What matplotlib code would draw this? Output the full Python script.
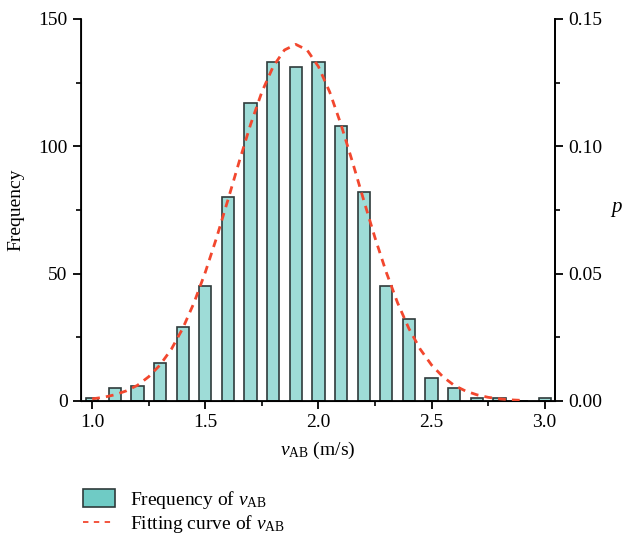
import numpy as np
import matplotlib
matplotlib.use("Agg")
import matplotlib.pyplot as plt
from matplotlib.patches import Patch
from matplotlib.lines import Line2D
from matplotlib.ticker import MultipleLocator

plt.rcParams['font.family'] = ['Liberation Serif', 'DejaVu Serif']
plt.rcParams['mathtext.fontset'] = 'custom'
plt.rcParams['mathtext.rm'] = 'Liberation Serif'
plt.rcParams['mathtext.it'] = 'Liberation Serif:italic'

# histogram of v_AB
speed = [1.0, 1.1, 1.2, 1.3, 1.4, 1.5, 1.6, 1.7, 1.8, 1.9, 2.0,
         2.1, 2.2, 2.3, 2.4, 2.5, 2.6, 2.7, 2.8, 2.9, 3.0]
freq = [1, 5, 6, 15, 29, 45, 80, 117, 133, 131, 133,
        108, 82, 45, 32, 9, 5, 1, 1, 0, 1]

# fitted curve (right axis)
fit_x = [1.00, 1.05, 1.10, 1.15, 1.20, 1.25, 1.30, 1.35, 1.40, 1.45, 1.50,
         1.55, 1.60, 1.65, 1.70, 1.75, 1.80, 1.85, 1.90, 1.95, 2.00,
         2.05, 2.10, 2.15, 2.20, 2.25, 2.30, 2.35, 2.40, 2.45, 2.50,
         2.55, 2.60, 2.65, 2.70, 2.75, 2.80, 2.85, 2.90]
fit_p = [0.0008, 0.0014, 0.0024, 0.0039, 0.0061, 0.0095, 0.0141, 0.0203, 0.0284, 0.0385, 0.0505,
         0.0641, 0.0789, 0.0940, 0.1085, 0.1213, 0.1313, 0.1378, 0.1400, 0.1378, 0.1313,
         0.1213, 0.1085, 0.0940, 0.0789, 0.0641, 0.0505, 0.0385, 0.0284, 0.0203, 0.0141,
         0.0095, 0.0061, 0.0039, 0.0024, 0.0014, 0.0008, 0.0004, 0.0002]

bar_face = (0.44, 0.80, 0.77, 0.68)
legend_face = '#6FCBC5'
edge = '#2F3B3B'
red = '#F2472E'

fig = plt.figure(figsize=(6.22, 5.41), dpi=100)
ax = fig.add_axes([0.130, 0.259, 0.762, 0.706])

ax.bar(speed, freq, width=0.054, facecolor=bar_face, edgecolor=edge, linewidth=1.2, zorder=2)
ax.set_xlim(0.95, 3.045)
ax.set_ylim(0, 150)
ax.xaxis.set_major_locator(MultipleLocator(0.5))
ax.xaxis.set_minor_locator(MultipleLocator(0.25))
ax.yaxis.set_major_locator(MultipleLocator(50))
ax.yaxis.set_minor_locator(MultipleLocator(25))
ax.spines['top'].set_visible(False)
for s in ['left', 'bottom', 'right']:
    ax.spines[s].set_linewidth(1.3)
ax.tick_params(which='major', direction='out', length=6, width=1.3, labelsize=14)
ax.tick_params(which='minor', direction='out', length=3.5, width=1.2)
ax.set_xlabel(r'$\mathit{v}_{\mathrm{AB}}$ (m/s)', fontsize=14, labelpad=6)
ax.set_ylabel('Frequency', fontsize=14, labelpad=10)

ax2 = ax.twinx()
ax2.plot(fit_x, fit_p, color=red, linestyle=(0, (2.8, 2.2)), linewidth=2.0, zorder=3)
ax2.set_ylim(0, 0.15)
ax2.yaxis.set_major_locator(MultipleLocator(0.05))
ax2.yaxis.set_minor_locator(MultipleLocator(0.025))
ax2.yaxis.set_major_formatter(plt.FormatStrFormatter('%.2f'))
ax2.spines['top'].set_visible(False)
ax2.spines['right'].set_linewidth(1.3)
ax2.tick_params(which='major', direction='out', length=6, width=1.3, labelsize=14)
ax2.tick_params(which='minor', direction='out', length=3.5, width=1.2)
ax2.set_ylabel(r'$\mathit{p}$', fontsize=15, rotation=0, labelpad=10, va='center')

handles = [Patch(facecolor=legend_face, edgecolor=edge, linewidth=1.2),
           Line2D([0], [0], color=red, linestyle=(0, (3, 3)), linewidth=1.3)]
labels = [r'Frequency of $\mathit{v}_{\mathrm{AB}}$', r'Fitting curve of $\mathit{v}_{\mathrm{AB}}$']
fig.legend(handles, labels, loc='upper left', bbox_to_anchor=(0.118, 0.115),
           frameon=False, fontsize=14, handlelength=1.65, handleheight=1.0,
           handletextpad=0.75, labelspacing=0.15, borderpad=0)

fig.savefig('out.png', dpi=100)
